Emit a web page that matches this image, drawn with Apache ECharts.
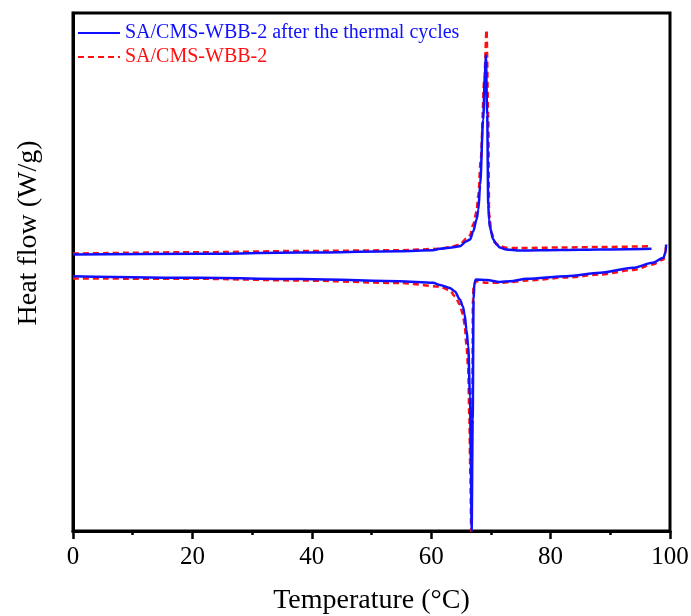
<!DOCTYPE html>
<html>
<head>
<meta charset="utf-8">
<title>DSC curves</title>
<script src="https://cdn.jsdelivr.net/npm/echarts@6/dist/echarts.min.js"></script>
<style>
  html, body { margin: 0; padding: 0; background: #fff; }
  #chart { width: 691px; height: 616px; }
</style>
</head>
<body>
<div id="chart"></div>
<script>
// Temperature (°C) and heat flow (W/g, arbitrary offset) for each DSC run.
// Cooling runs carry the exothermic crystallisation peak, heating runs the melting dip.
var coolAfterT = [0, 21.2, 38.0, 54.7, 60.3, 61.45, 63.1, 64.8, 65.9, 66.5, 67.03, 67.6, 67.9, 68.2, 68.7, 69.0, 69.16, 69.38, 69.55, 69.7, 69.8, 70.4, 70.95, 71.5, 72.6, 74.9, 81.6, 88.3, 96.9];
var coolAfterQ = [0.337, 0.351, 0.376, 0.401, 0.420, 0.447, 0.466, 0.497, 0.594, 0.626, 0.780, 1.012, 1.204, 1.686, 2.938, 3.805, 4.191, 3.035, 1.301, 1.012, 0.877, 0.626, 0.530, 0.472, 0.434, 0.414, 0.424, 0.434, 0.447];

var heatAfterT = [0, 21.2, 38.0, 54.7, 60.3, 61.45, 63.1, 63.97, 64.8, 65.3, 65.6, 65.9, 66.2, 66.5, 66.65, 66.77, 66.95, 67.1, 67.24, 67.5, 69.3, 71.5, 73.2, 76.0, 82.7, 88.3, 93.8, 97.1, 98.9, 99.3, 99.35];
var heatAfterQ = [-0.081, -0.112, -0.135, -0.177, -0.208, -0.250, -0.308, -0.376, -0.530, -0.665, -0.819, -1.108, -1.435, -2.399, -3.671, -5.0, -2.842, -0.530, -0.202, -0.145, -0.155, -0.193, -0.177, -0.131, -0.081, -0.015, 0.081, 0.177, 0.274, 0.401, 0.530];

var coolT = [0, 21.2, 38.0, 54.7, 61.45, 63.1, 64.8, 65.9, 66.5, 67.03, 67.6, 67.9, 68.3, 68.9, 69.27, 69.55, 69.7, 70.1, 70.65, 71.5, 72.6, 74.9, 81.6, 88.3, 96.35];
var coolQ = [0.356, 0.382, 0.405, 0.420, 0.447, 0.481, 0.530, 0.645, 0.703, 0.915, 1.166, 1.493, 2.168, 3.709, 4.672, 3.035, 1.108, 0.761, 0.568, 0.501, 0.466, 0.462, 0.472, 0.482, 0.497];

var heatT = [0, 21.2, 38.0, 54.7, 61.45, 63.1, 63.97, 64.8, 65.3, 65.6, 65.9, 66.2, 66.4, 66.57, 66.7, 66.87, 66.99, 67.12, 67.6, 69.3, 71.5, 73.2, 76.0, 82.7, 88.3, 93.8, 97.1, 98.9, 99.25, 99.3];
var heatQ = [-0.125, -0.131, -0.164, -0.212, -0.279, -0.356, -0.466, -0.626, -0.819, -1.012, -1.397, -1.879, -2.842, -3.998, -5.0, -2.842, -0.530, -0.241, -0.177, -0.208, -0.208, -0.193, -0.164, -0.106, -0.048, 0.039, 0.145, 0.241, 0.376, 0.472];

var seriesNames = ['SA/CMS-WBB-2 after the thermal cycles', 'SA/CMS-WBB-2'];
var xTicks = [0, 20, 40, 60, 80, 100];

function pairs(xs, ys) {
  return xs.map(function (x, i) { return [x, ys[i]]; });
}

var BLUE = '#1010ff';
var RED = '#ff1010';
var FONT = "'Liberation Serif', 'Times New Roman', serif";

var chart = echarts.init(document.getElementById('chart'), null, { renderer: 'canvas' });

function curve(name, data, color, dashed, z) {
  return {
    name: name,
    type: 'line',
    data: data,
    showSymbol: false,
    symbol: 'none',
    smooth: 0.3,
    smoothMonotone: 'x',
    z: z,
    lineStyle: { color: color, width: 2.5, type: dashed ? [6, 4] : 'solid' },
    itemStyle: { color: color },
    animation: false
  };
}

chart.setOption({
  animation: false,
  backgroundColor: '#ffffff',
  textStyle: { fontFamily: FONT },
  grid: {
    left: 73, right: 21, top: 13, bottom: 85,
    outerBoundsMode: 'none',
    containLabel: false,
    show: true, borderColor: '#000', borderWidth: 3, backgroundColor: 'transparent'
  },
  legend: {
    left: 77, top: 22, orient: 'vertical', padding: 0,
    itemWidth: 42, itemHeight: 14, itemGap: 2,
    // line-only keys: hide the marker drawn in the middle of the key
    itemStyle: { opacity: 0 },
    textStyle: { fontFamily: FONT, fontSize: 20, lineHeight: 22 },
    data: [
      { name: seriesNames[0], textStyle: { color: BLUE } },
      { name: seriesNames[1], textStyle: { color: RED } }
    ]
  },
  xAxis: {
    type: 'value', min: 0, max: 100, interval: 20,
    name: 'Temperature (\u00B0C)', nameLocation: 'middle', nameGap: 56,
    nameTextStyle: { fontFamily: FONT, fontSize: 28, color: '#000' },
    axisLine: { show: true, onZero: false, lineStyle: { color: '#000', width: 3 } },
    axisTick: { show: true, inside: false, length: 8, lineStyle: { color: '#000', width: 2.5 } },
    minorTick: { show: true, splitNumber: 2, length: 4, lineStyle: { color: '#000', width: 2.5 } },
    axisLabel: {
      margin: 14, fontFamily: FONT, fontSize: 25, color: '#000',
      formatter: function (v) { return xTicks.indexOf(v) >= 0 ? String(v) : ''; }
    },
    splitLine: { show: false }
  },
  yAxis: {
    type: 'value', min: -5, max: 5,
    name: 'Heat flow (W/g)', nameLocation: 'middle', nameGap: 30,
    nameTextStyle: { fontFamily: FONT, fontSize: 28, color: '#000', padding: [0, 0, 0, 78] },
    axisLine: { show: true, onZero: false, lineStyle: { color: '#000', width: 3 } },
    axisTick: { show: false },
    axisLabel: { show: false },
    splitLine: { show: false }
  },
  series: [
    curve(seriesNames[1], pairs(coolT, coolQ), RED, true, 2),
    curve(seriesNames[1], pairs(heatT, heatQ), RED, true, 2),
    curve(seriesNames[0], pairs(coolAfterT, coolAfterQ), BLUE, false, 3),
    curve(seriesNames[0], pairs(heatAfterT, heatAfterQ), BLUE, false, 3)
  ]
});
</script>
</body>
</html>
